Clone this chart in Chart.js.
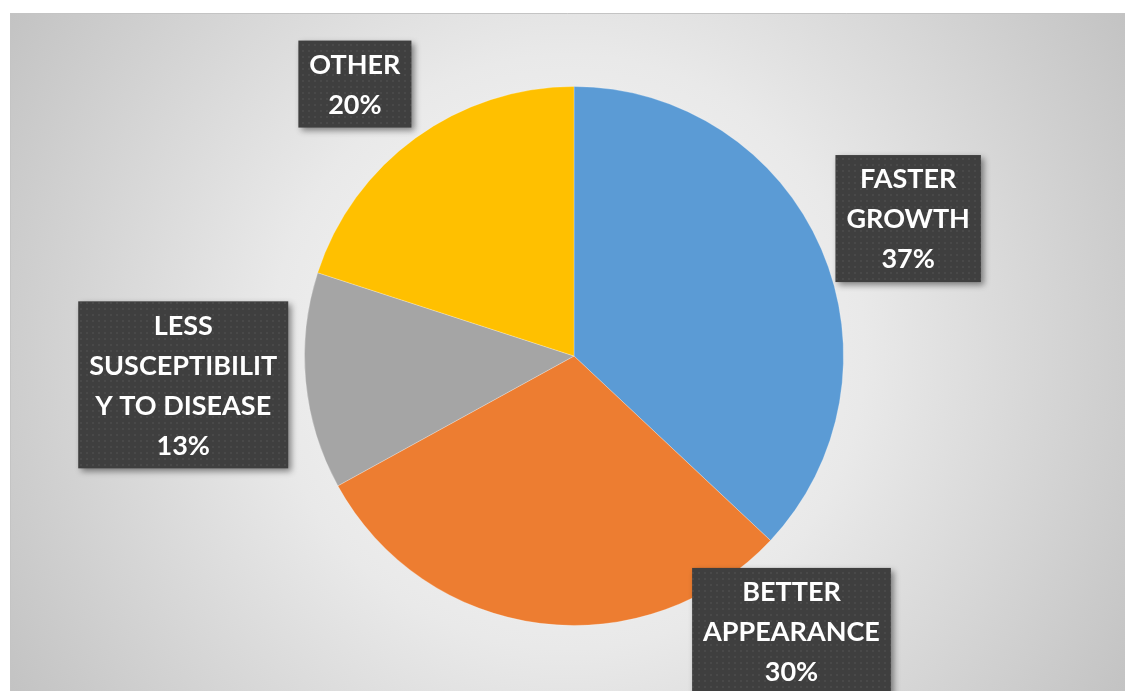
<!DOCTYPE html>
<html>
<head>
<meta charset="utf-8">
<script src="https://cdn.jsdelivr.net/npm/chart.js@4.4.1/dist/chart.umd.min.js"></script>
<style>
  html, body { margin: 0; padding: 0; background: #fff; }
  #wrap { width: 1125px; height: 691px; position: relative; }
</style>
</head>
<body>
<div id="wrap"><canvas id="pieChart"></canvas></div>
<script>
// datos del grafico
const categorias = [['FASTER', 'GROWTH'], ['BETTER', 'APPEARANCE'], ['LESS', 'SUSCEPTIBILIT', 'Y TO DISEASE'], ['OTHER']];
const porcentajes = [37, 30, 13, 20];
const colores = ['#5B9BD5', '#ED7D31', '#A5A5A5', '#FFC000'];

// posicion de cada etiqueta respecto al centro, en radios
const posEtiquetas = [[1.24, -0.51], [0.807, 1.022], [-1.45, 0.107], [-0.813, -1.009]];

// patron de puntos para las cajas
function patronPuntos(ctx) {
  const c = document.createElement('canvas');
  c.width = 6; c.height = 6;
  const p = c.getContext('2d');
  p.fillStyle = '#3f3f3f';
  p.fillRect(0, 0, 6, 6);
  p.fillStyle = '#494949';
  p.fillRect(2, 2, 2, 2);
  return ctx.createPattern(c, 'repeat');
}

const fondo = {
  id: 'fondo',
  beforeDraw(chart) {
    const ctx = chart.ctx;
    const w = chart.width, h = chart.height;
    ctx.save();
    ctx.fillStyle = '#fff';
    ctx.fillRect(0, 0, w, h);
    const x0 = 10, y0 = 13;
    const cx = (x0 + w) / 2, cy = (y0 + h) / 2;
    const g = ctx.createRadialGradient(cx, cy, 0, cx, cy, 660);
    g.addColorStop(0, '#fbfbfb');
    g.addColorStop(0.45, '#e9e9e9');
    g.addColorStop(1, '#c2c2c2');
    ctx.fillStyle = g;
    ctx.fillRect(x0, y0, w - x0, h - y0);
    ctx.strokeStyle = '#c4c4c4';
    ctx.lineWidth = 1;
    ctx.beginPath();
    ctx.moveTo(x0 + 0.5, h);
    ctx.lineTo(x0 + 0.5, y0 + 0.5);
    ctx.lineTo(w, y0 + 0.5);
    ctx.stroke();
    ctx.restore();
  }
};

const etiquetas = {
  id: 'etiquetas',
  afterDatasetsDraw(chart) {
    const ctx = chart.ctx;
    const arcs = chart.getDatasetMeta(0).data;
    const relleno = patronPuntos(ctx);
    ctx.save();
    ctx.font = 'bold 27px Lato';
    ctx.textAlign = 'center';
    ctx.textBaseline = 'middle';
    arcs.forEach((arc, i) => {
      const r = arc.outerRadius;
      const lineas = categorias[i].concat([porcentajes[i] + '%']);
      const alto = 40;
      let ancho = 0;
      lineas.forEach(l => { ancho = Math.max(ancho, ctx.measureText(l).width); });
      const bw = ancho + 22, bh = lineas.length * alto + 7;
      const bx = arc.x + posEtiquetas[i][0] * r - bw / 2;
      const by = arc.y + posEtiquetas[i][1] * r - bh / 2;
      ctx.save();
      ctx.shadowColor = 'rgba(0,0,0,0.45)';
      ctx.shadowBlur = 6;
      ctx.shadowOffsetX = 3;
      ctx.shadowOffsetY = 3;
      ctx.fillStyle = relleno;
      ctx.fillRect(bx, by, bw, bh);
      ctx.restore();
      ctx.fillStyle = '#fff';
      lineas.forEach((l, k) => {
        ctx.fillText(l, bx + bw / 2, by + 3.5 + alto * k + alto / 2 + 1);
      });
    });
    ctx.restore();
  }
};

new Chart(document.getElementById('pieChart'), {
  type: 'pie',
  data: {
    labels: categorias.map(c => c.join(' ')),
    datasets: [{
      data: porcentajes,
      backgroundColor: colores,
      borderColor: 'rgba(255,255,255,0.25)',
      borderWidth: 1
    }]
  },
  options: {
    responsive: true,
    maintainAspectRatio: false,
    animation: false,
    layout: { padding: { left: 300, right: 277, top: 86, bottom: 65 } },
    plugins: {
      legend: { display: false },
      tooltip: { enabled: false }
    }
  },
  plugins: [fondo, etiquetas]
});
</script>
</body>
</html>
